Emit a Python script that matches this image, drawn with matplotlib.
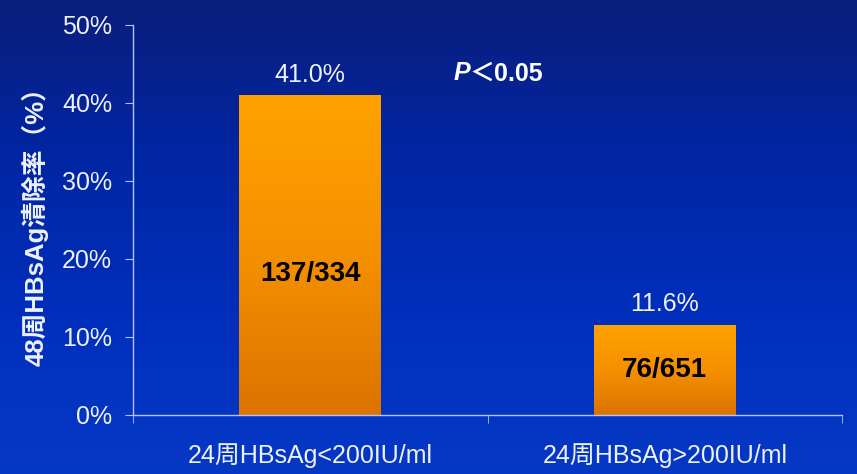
import numpy as np
import matplotlib
matplotlib.use('Agg')
import matplotlib.pyplot as plt
from matplotlib.colors import LinearSegmentedColormap

plt.rcParams['font.family'] = ['Liberation Sans', 'Noto Sans CJK SC', 'DejaVu Sans']

# data
categories = ['24周HBsAg<200IU/ml', '24周HBsAg>200IU/ml']
rates = [41.0, 11.6]
counts = ['137/334', '76/651']
y_ticks = [0, 10, 20, 30, 40, 50]
y_label = '48周HBsAg清除率（%）'

text_col = '#EEF1FF'
axis_col = '#B8C4F0'

fig = plt.figure(figsize=(8.57, 4.74), dpi=100)

# blue gradient background
bg = fig.add_axes([0, 0, 1, 1], zorder=-5)
bg_cmap = LinearSegmentedColormap.from_list('bg', ['#0B1E7C', '#0026A4', '#002FBC', '#0638C6'])
grad = np.linspace(0, 1, 256).reshape(-1, 1)
bg.imshow(grad, aspect='auto', cmap=bg_cmap, extent=[0, 1, 0, 1], origin='upper')
bg.axis('off')

ax = fig.add_axes([133 / 857, 59 / 474, 709 / 857, 390 / 474])
ax.patch.set_alpha(0)

x = np.arange(len(categories))
bars = ax.bar(x, rates, width=0.4, color='none', edgecolor='none')

# orange gradient inside each bar
bar_cmap = LinearSegmentedColormap.from_list('bar', ['#FFA200', '#F59000', '#DB7400'])
for b in bars:
    x0, w, h = b.get_x(), b.get_width(), b.get_height()
    im = ax.imshow(grad, aspect='auto', cmap=bar_cmap, extent=[x0, x0 + w, 0, h],
                   origin='upper', zorder=2)
    im.set_clip_path(b)

ax.set_xlim(-0.5, 1.5)
ax.set_ylim(0, 50)

for i, (r, c, f) in enumerate(zip(rates, counts, (0.44, 0.5))):
    ax.text(i, r + 2.6, f'{r:.1f}%', ha='center', va='center', fontsize=18, color=text_col)
    ax.text(i, r * f, c, ha='center', va='center', fontsize=20,
            fontweight='bold', color='black', zorder=3)

ax.text(0.45, 43.8, 'P', ha='right', va='center', fontsize=18, fontweight='bold',
        fontstyle='italic', color='white')
ax.text(0.45, 43.8, '＜0.05', ha='left', va='center', fontsize=18, fontweight='bold',
        color='white')

ax.set_yticks(y_ticks)
ax.set_yticklabels([f'{t}%' for t in y_ticks], fontsize=18, color=text_col)
ax.set_xticks(x)
ax.set_xticklabels(categories, fontsize=18, color=text_col)
ax.set_xticks([-0.5, 0.5, 1.5], minor=True)
ax.tick_params(axis='x', which='major', length=0, pad=20)
ax.tick_params(axis='x', which='minor', length=6, direction='out', color=axis_col)
ax.tick_params(axis='y', length=6, direction='out', color=axis_col, pad=9)

for s in ['top', 'right']:
    ax.spines[s].set_visible(False)
for s in ['left', 'bottom']:
    ax.spines[s].set_color(axis_col)
    ax.spines[s].set_linewidth(1)

ax.set_ylabel(y_label, fontsize=18.5, fontweight='bold', color=text_col, labelpad=10)

fig.savefig('out.png', dpi=100)
